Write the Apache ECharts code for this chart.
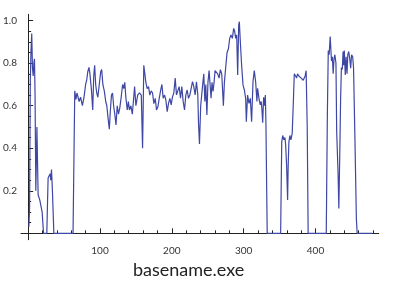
<!DOCTYPE html>
<html><head><meta charset="utf-8">
<script src="https://cdn.jsdelivr.net/npm/echarts@6/dist/echarts.min.js"></script>
<style>html,body{margin:0;padding:0;background:#fff}#c{width:399px;height:293px}</style>
</head><body><div id="c"></div>
<script>
// ---- data ----
const xValues = [
 1,2,3,4,5,6,7,8,8.8,9.6,10.7,11.5,12.2,13,13.9,15,16.3,17.6,19.5,21.4,26,27,27.8,29.2,30.6,31.5,32.5,33.8,35.8,62.5,64.9,
 66.5,68,69.5,71,73,75.5,77.8,80,81.5,83,84.7,86,88,89.9,91.3,92.6,94,95.5,97,99,101,102.4,104,106,108,109.5,111,113,114.5,116,117.5,119,121,122.3,124,125.8,127.6,129.5,131.5,133,134.5,136,138,139.5,141,143,145,146.5,148.2,150,152.5,155,157.5,159.3,161,
 163.9,165.7,167.6,169.4,171.3,173.2,175,176.9,178.7,180.6,182.5,184.3,186.2,188,189.9,191.7,193.6,195.4,197.3,199.1,201,202.8,204.7,206.5,208.4,210.2,212.1,213.9,215.8,217.7,219.5,221.4,223.2,225.1,226.9,228.8,230.6,232.5,234.3,236.2,237.1,238.5,240.2,242.7,244.5,
 246,247.3,248.8,250.3,251.9,253.3,254.6,256,257.4,258.8,260.2,261.9,263.9,265.8,267.6,269.5,270.4,271.8,273.2,275,276.9,278.8,280.6,282.5,284.3,286.1,287.5,288.9,290.3,291.7,293.1,294,295.4,297.2,299.1,301,302.8,303.7,305.5,307.4,309.3,311.1,313,314.8,316.7,318.5,319.4,321.3,323.1,
 324.5,325.5,326.5,327.8,329,330.2,331,332.8,351.5,353,354.4,356,357.5,358.4,359.8,361.2,362,363,364.4,365.8,367.6,369,370.5,372.3,373.7,375,376.9,378.7,380.1,381.5,382.9,384.2,385.6,387,388.5,389.8,
 415,416.5,417.8,419,420.5,421.5,422.3,423.5,424.6,425.8,427,428.5,429.5,431.5,432.5,433.8,435,436.1,437.3,438.4,439.3,440.1,441.5,442.6,443.9,445,446.3,447.7,449,450.2,451.8,453,455,456.9,458,479
];
const yValues = [
 0.03,0.12,0.72,0.86,0.94,0.78,0.74,0.80,0.82,0.66,0.20,0.35,0.50,0.35,0.18,0.17,0.155,0.16,0.10,0,0,0.15,0.26,0.265,0.28,0.25,0.30,0.20,0,0,0.67,
 0.63,0.66,0.64,0.62,0.64,0.60,0.64,0.70,0.72,0.76,0.78,0.75,0.68,0.58,0.74,0.79,0.70,0.66,0.64,0.70,0.76,0.77,0.70,0.67,0.62,0.60,0.55,0.49,0.58,0.65,0.66,0.60,0.55,0.51,0.60,0.56,0.59,0.64,0.70,0.68,0.71,0.64,0.58,0.62,0.58,0.60,0.56,0.62,0.69,0.60,0.65,0.66,0.65,0.40,0.79,
 0.71,0.68,0.69,0.65,0.67,0.66,0.61,0.635,0.58,0.595,0.635,0.67,0.70,0.635,0.65,0.627,0.572,0.611,0.635,0.604,0.643,0.66,0.73,0.651,0.66,0.69,0.635,0.69,0.62,0.58,0.651,0.674,0.635,0.65,0.68,0.713,0.69,0.651,0.713,0.651,0.525,0.42,0.60,0.69,0.75,
 0.62,0.70,0.557,0.71,0.765,0.70,0.635,0.71,0.667,0.71,0.765,0.77,0.75,0.73,0.77,0.75,0.755,0.60,0.71,0.78,0.85,0.868,0.917,0.933,0.917,0.964,0.95,0.917,0.933,0.745,0.98,0.995,0.90,0.79,0.698,0.674,0.635,0.525,0.65,0.611,0.635,0.525,0.713,0.765,0.713,0.62,0.682,0.635,0.604,
 0.62,0.58,0.52,0.64,0.60,0.65,0.52,0,0,0.43,0.46,0.44,0.45,0.42,0.32,0.157,0.32,0.43,0.46,0.44,0.47,0.60,0.75,0.74,0.73,0.75,0.74,0.745,0.73,0.735,0.72,0.713,0.74,0.765,0.5,0,
 0,0.55,0.86,0.84,0.925,0.86,0.81,0.83,0.75,0.82,0.84,0.80,0.48,0.274,0.117,0.37,0.635,0.78,0.77,0.855,0.79,0.86,0.745,0.83,0.75,0.84,0.855,0.82,0.776,0.84,0.83,0.776,0.43,0.07,0,0
];
const xTickLabels = [100, 200, 300, 400];
const xMinorTicks = [20,40,60,80,120,140,160,180,220,240,260,280,320,340,360,380,420,440,460,480];
const yTickLabels = [0.2, 0.4, 0.6, 0.8, 1.0];
const yMinorTicks = [0.05,0.1,0.15,0.25,0.3,0.35,0.45,0.5,0.55,0.65,0.7,0.75,0.85,0.9,0.95];
const chartTitle = 'basename.exe';

const seriesData = xValues.map((x, i) => [x, yValues[i]]);
const axisColor = '#222';
const labelFont = { fontFamily: 'Lato', fontSize: 10, color: '#333' };

const xBase = { type: 'value', min: -10, max: 488, splitLine: { show: false }, position: 'bottom' };
const yBase = { type: 'value', min: -0.03, max: 1.03, splitLine: { show: false }, position: 'left' };

const option = {
  animation: false,
  backgroundColor: '#fff',
  title: { text: chartTitle, left: 133, top: 261, padding: 0,
    textStyle: { fontFamily: 'Lato', fontSize: 18, fontWeight: 'normal', color: '#222' } },
  grid: { left: 20, right: 20.3, top: 14.3, bottom: 53.3, containLabel: false },
  xAxis: [
    Object.assign({}, xBase, {
      axisLine: { show: true, onZero: true, lineStyle: { color: axisColor, width: 1 } },
      axisTick: { show: true, inside: true, length: 5, customValues: xTickLabels, lineStyle: { color: axisColor } },
      axisLabel: Object.assign({ show: true, margin: 6, customValues: xTickLabels, formatter: v => String(v) }, labelFont)
    }),
    Object.assign({}, xBase, {
      axisLine: { show: false, onZero: true },
      axisTick: { show: true, inside: true, length: 3, customValues: xMinorTicks, lineStyle: { color: axisColor } },
      axisLabel: { show: false }
    })
  ],
  yAxis: [
    Object.assign({}, yBase, {
      axisLine: { show: true, onZero: true, lineStyle: { color: axisColor, width: 1 } },
      axisTick: { show: true, inside: true, length: 5, customValues: yTickLabels, lineStyle: { color: axisColor } },
      axisLabel: Object.assign({ show: true, margin: 4, customValues: yTickLabels, formatter: v => v.toFixed(1) }, labelFont)
    }),
    Object.assign({}, yBase, {
      axisLine: { show: false, onZero: true },
      axisTick: { show: true, inside: true, length: 3, customValues: yMinorTicks, lineStyle: { color: axisColor } },
      axisLabel: { show: false }
    })
  ],
  series: [{
    type: 'line', xAxisIndex: 0, yAxisIndex: 0,
    data: seriesData, showSymbol: false, symbol: 'none',
    lineStyle: { color: '#3f47a5', width: 1.2 }
  }]
};
const chart = echarts.init(document.getElementById('c'), null, { renderer: 'canvas' });
chart.setOption(option);
</script></body></html>
